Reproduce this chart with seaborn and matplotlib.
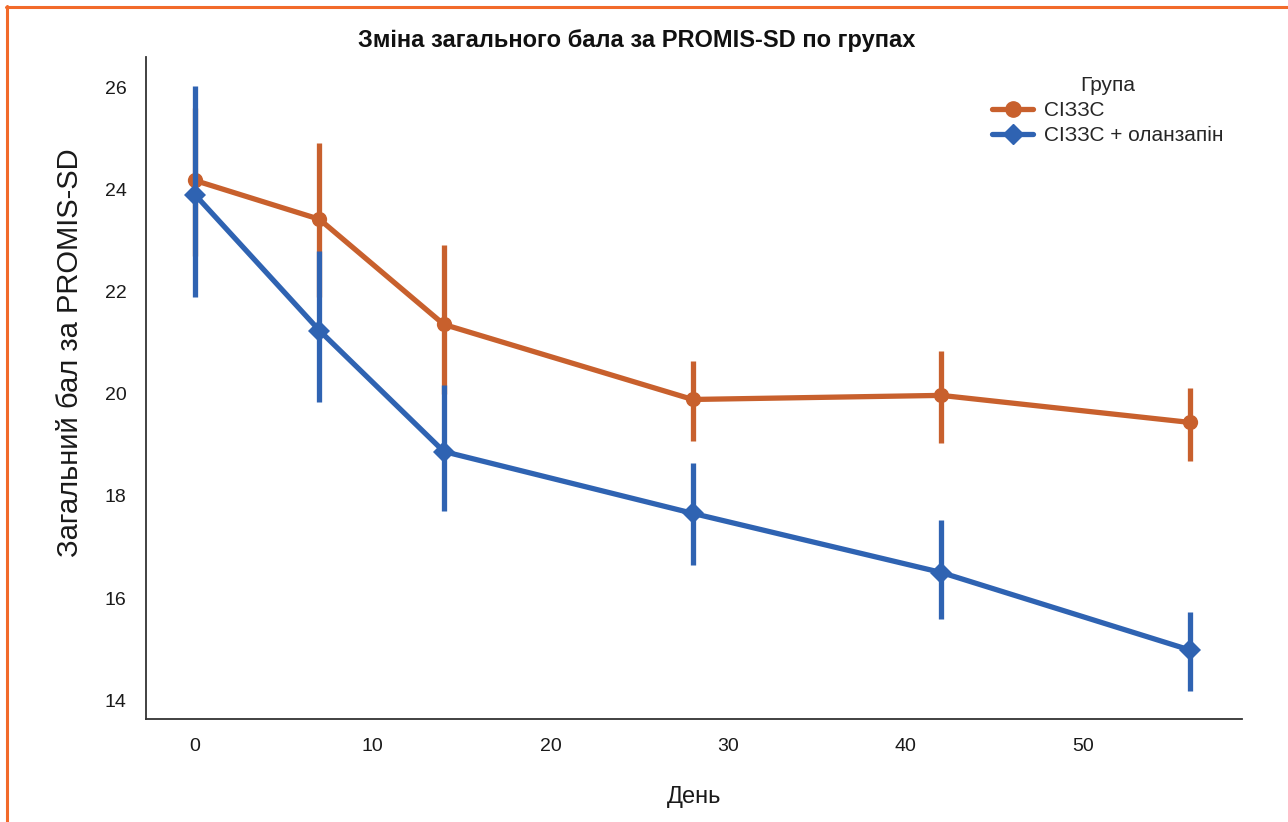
import matplotlib
matplotlib.use("Agg")
import matplotlib.pyplot as plt
import seaborn as sns
import pandas as pd
from matplotlib.lines import Line2D

days = [0, 7, 14, 28, 42, 56]
groups = ["СІЗЗС", "СІЗЗС + оланзапін"]
mean_sizs = [24.18, 23.42, 21.36, 19.89, 19.97, 19.44]
low_sizs = [22.7, 21.9, 20.0, 19.07, 19.03, 18.68]
high_sizs = [25.6, 24.92, 22.91, 20.64, 20.83, 20.11]
mean_olz = [23.9, 21.24, 18.87, 17.66, 16.5, 14.98]
low_olz = [21.89, 19.85, 17.70, 16.64, 15.59, 14.18]
high_olz = [26.04, 22.79, 20.17, 18.64, 17.52, 15.72]
xticks = [0, 10, 20, 30, 40, 50]
yticks = [14, 16, 18, 20, 22, 24, 26]

title = "Зміна загального бала за PROMIS-SD по групах"
xlabel = "День"
ylabel = "Загальний бал за PROMIS-SD"
legend_title = "Група"

colors = ["#C8602D", "#2F63B2"]

sns.set_theme(style="white")
plt.rcParams["font.family"] = ["Liberation Sans", "DejaVu Sans"]

df = pd.DataFrame({
    "day": days * 2,
    "score": mean_sizs + mean_olz,
    "group": [groups[0]] * len(days) + [groups[1]] * len(days),
})

fig = plt.figure(figsize=(12.88, 8.22), dpi=100)
ax = fig.add_axes([0.1134, 0.1253, 0.851, 0.8054])

lows = [low_sizs, low_olz]
highs = [high_sizs, high_olz]
for i, g in enumerate(groups):
    ax.vlines(days, lows[i], highs[i], color=colors[i], lw=3.8, zorder=2 + 2 * i)

sns.lineplot(data=df, x="day", y="score", hue="group", style="group",
             palette=colors, markers={groups[0]: "o", groups[1]: "D"},
             dashes=False, lw=3.8, markersize=11, markeredgewidth=0,
             ax=ax, legend=False)
for i, ln in enumerate(ax.lines):
    ln.set_zorder(3 + 2 * i)

ax.set_xlim(-2.76, 58.93)
ax.set_ylim(13.63, 26.6)
ax.set_xticks(xticks)
ax.set_yticks(yticks)
ax.tick_params(labelsize=14, length=0, pad=14, labelcolor="#1a1a1a")
sns.despine(ax=ax)
for s in ["left", "bottom"]:
    ax.spines[s].set_color("#333333")
    ax.spines[s].set_linewidth(1.3)

ax.set_xlabel(xlabel, fontsize=17, labelpad=22, color="#1a1a1a")
ax.set_ylabel(ylabel, fontsize=21, color="#1a1a1a")
ax.yaxis.set_label_coords(-0.057, 0.554)
fig.text(637 / 1288, 1 - 40 / 822, title, fontsize=17, fontweight="bold",
         ha="center", va="center", color="#111111")

handles = [Line2D([], [], color=colors[0], lw=3.8, marker="o", markersize=11),
           Line2D([], [], color=colors[1], lw=3.8, marker="D", markersize=10)]
leg = ax.legend(handles, groups, title=legend_title, loc="upper right",
                bbox_to_anchor=(1.0, 1.0), frameon=False, fontsize=15,
                title_fontsize=15, handlelength=2.0, handletextpad=0.5,
                labelspacing=0.3)

border = "#F26A2A"
fig.add_artist(Line2D([6 / 1288, 1], [1 - 7 / 822, 1 - 7 / 822], color=border, lw=2.2, transform=fig.transFigure))
fig.add_artist(Line2D([7 / 1288, 7 / 1288], [0, 1 - 6 / 822], color=border, lw=2.2, transform=fig.transFigure))

fig.savefig("out.png", dpi=100)
